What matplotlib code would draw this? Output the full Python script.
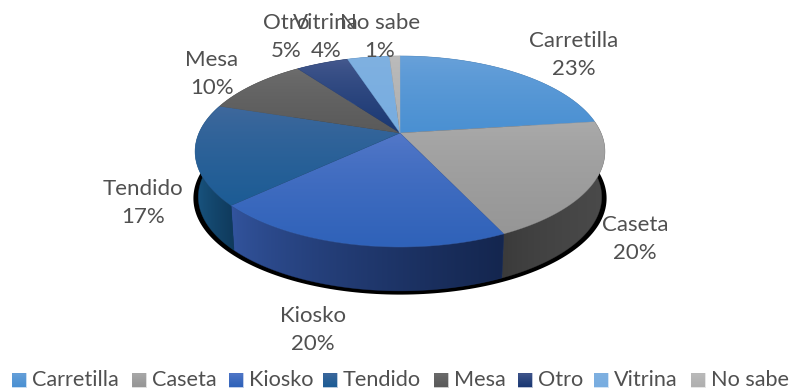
"""
3D looking pie chart, drawn by hand from the percentages
"""
import matplotlib
matplotlib.use("Agg")
import matplotlib.pyplot as plt
import numpy as np
from matplotlib.colors import to_rgb
from matplotlib.patches import Polygon

plt.rcParams['font.family'] = ['Lato', 'DejaVu Sans']

categories = ['Carretilla', 'Caseta', 'Kiosko', 'Tendido', 'Mesa', 'Otro', 'Vitrina', 'No sabe']
values = [23, 20, 20, 17, 10, 5, 4, 1]

# top and bottom colour of each slice
top_light = ['#6aa2da', '#ababab', '#5579c9', '#41699d', '#6e6e6e', '#465a8f', '#80b1e1', '#bcbcbc']
top_dark = ['#4a90d2', '#969696', '#2f62b9', '#1c5c95', '#5a5a5a', '#1a3873', '#78ade0', '#b0b0b0']
# left and right colour of the side wall
wall_left = ['#3a6ea0', '#3a3a3a', '#33559f', '#1a5885', '#333333', '#14264f', '#3a6ea0', '#555555']
wall_right = ['#2a5a88', '#4a4a4a', '#14264f', '#0f3a5c', '#333333', '#14264f', '#3a6ea0', '#555555']

# (x, y) centre of label text, name line and percent line
label_pos = [(574, 41, 69), (635, 225, 253), (313, 316, 344), (143, 189, 217),
             (212, 60, 88), (286, 23, 51), (326, 23, 51), (380, 23, 51)]
legend_x = [12, 132, 229, 323, 434, 518, 594, 691]

text_color = '#505050'
font_px = 16
legend_px = 15.6


def project(theta, depth=0.0, scale=1.0):
    # circle to screen with a little perspective, theta clockwise from 12 o'clock
    k = 0.1937
    u = np.sin(theta) * scale
    v = -np.cos(theta) * scale
    w = 1 - k * v
    return 400 + 201 * u / w, 133 + 91.9 * v / w + depth


def gradient_fill(ax, pts, c1, c2, vertical=True, zorder=2):
    # colour ramp clipped to a polygon
    pts = np.array(pts)
    ramp = np.linspace(0, 1, 128) ** 0.7
    a, b = np.array(to_rgb(c1)), np.array(to_rgb(c2))
    img = a[None, :] * (1 - ramp[:, None]) + b[None, :] * ramp[:, None]
    img = img[:, None, :] if vertical else img[None, :, :]
    x0, x1, y0, y1 = pts[:, 0].min(), pts[:, 0].max(), pts[:, 1].min(), pts[:, 1].max()
    im = ax.imshow(img, extent=(x0, x1, y1, y0), aspect='auto', zorder=zorder, interpolation='bilinear')
    patch = Polygon(pts, closed=True, transform=ax.transData, facecolor='none', edgecolor='none')
    ax.add_patch(patch)
    im.set_clip_path(patch)
    # thin outline to close the seams between slices
    ax.add_patch(Polygon(pts, closed=True, facecolor='none', edgecolor=(*(a + b) / 2, 0.6),
                         linewidth=0.4, zorder=zorder))


def main():
    fig = plt.figure(figsize=(7.9, 3.9), dpi=100)
    ax = fig.add_axes([0, 0, 1, 1])

    edges = np.concatenate([[0], np.cumsum(values)]) / sum(values) * 2 * np.pi

    # black shadow under the pie
    t = np.linspace(0, 2 * np.pi, 300)
    sx, sy = project(t, depth=46.5, scale=1.008)
    ax.add_patch(Polygon(np.column_stack([sx, sy]), closed=True, facecolor='black', edgecolor='none', zorder=1))

    # side walls
    for i in range(len(values)):
        t = np.linspace(edges[i], edges[i + 1], 80)
        xt, yt = project(t)
        xb, yb = project(t, depth=46, scale=0.985)
        pts = np.column_stack([np.r_[xt, xb[::-1]], np.r_[yt, yb[::-1]]])
        gradient_fill(ax, pts, wall_left[i], wall_right[i], vertical=False, zorder=2)

    # top faces
    for i in range(len(values)):
        t = np.linspace(edges[i], edges[i + 1], 80)
        xt, yt = project(t)
        pts = np.column_stack([np.r_[400, xt], np.r_[133, yt]])
        gradient_fill(ax, pts, top_light[i], top_dark[i], zorder=3)

    # labels
    for name, val, (x, y1, y2) in zip(categories, values, label_pos):
        ax.text(x, y1, name, ha='center', va='center', fontsize=font_px, color=text_color, zorder=5)
        ax.text(x, y2, f'{val}%', ha='center', va='center', fontsize=font_px, color=text_color, zorder=5)

    # legend
    for i, name in enumerate(categories):
        gradient_fill(ax, [(legend_x[i], 373), (legend_x[i] + 14, 373),
                           (legend_x[i] + 14, 387), (legend_x[i], 387)],
                      top_light[i], top_dark[i], zorder=3)
        ax.text(legend_x[i] + 20, 379.5, name, ha='left', va='center', fontsize=legend_px, color=text_color)

    ax.set_xlim(0, 790)
    ax.set_ylim(390, 0)
    ax.axis('off')
    plt.savefig('out.png', dpi=100)


if __name__ == "__main__":
    main()
